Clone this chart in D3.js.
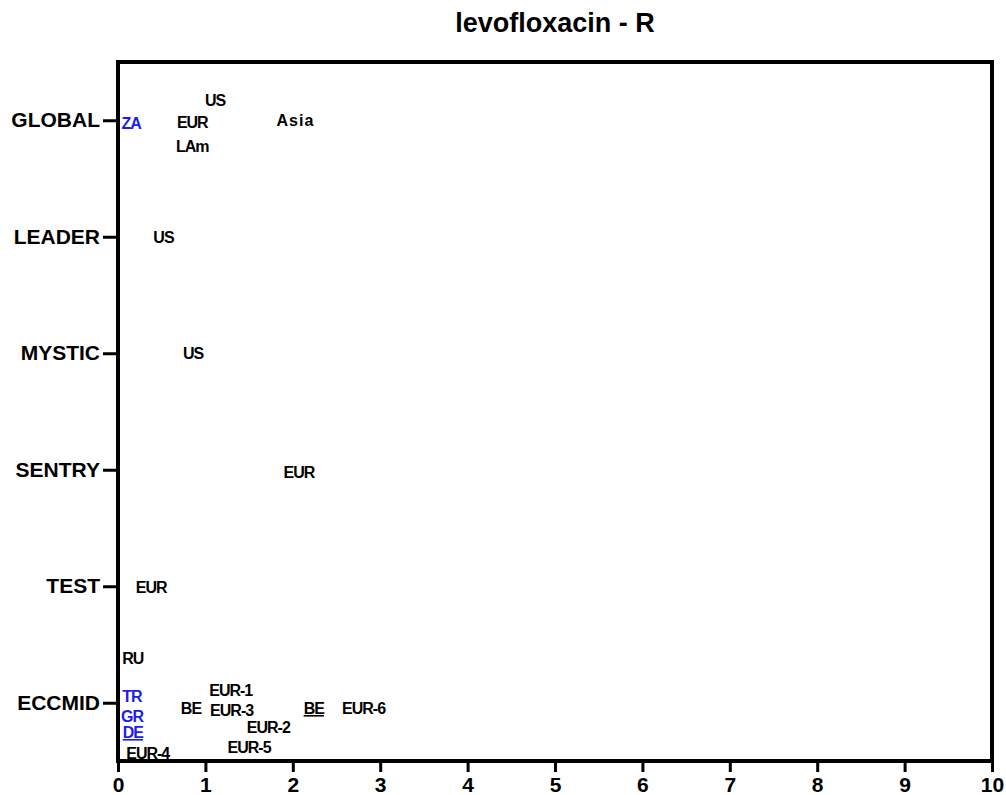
<!DOCTYPE html>
<html>
<head>
<meta charset="utf-8">
<script src="https://cdn.jsdelivr.net/npm/d3@7"></script>
<style>
  body { margin: 0; background: #fff; }
  svg { font-family: Arial, "Liberation Sans", sans-serif; font-weight: bold; }
  .axis text { fill: #000; }
  .axis line { stroke: #000; }
</style>
</head>
<body>
<svg id="chart" width="1006" height="795"></svg>
<script>
// Studies on the y axis (bottom to top)
const categories = ['ECCMID', 'TEST', 'SENTRY', 'MYSTIC', 'LEADER', 'GLOBAL'];
const xTicks = [0, 1, 2, 3, 4, 5, 6, 7, 8, 9, 10];

// Point labels: name, x value, y value (study index + small offset)
const labelNames = ['ZA', 'EUR', 'US', 'LAm', 'Asia',
  'US', 'US', 'EUR', 'EUR',
  'RU', 'TR', 'GR', 'DE', 'EUR-4', 'BE', 'EUR-1', 'EUR-3', 'EUR-2', 'EUR-5', 'BE', 'EUR-6'];
const labelX = [0.15, 0.85, 1.11, 0.85, 2.03,
  0.52, 0.86, 2.07, 0.38,
  0.17, 0.16, 0.16, 0.17, 0.34, 0.835, 1.29, 1.30, 1.72, 1.50, 2.24, 2.81];
const labelY = [5.975, 5.98, 6.17, 5.78, 6.0,
  5.0, 4.0, 2.98, 1.99,
  1.38, 1.056, 0.888, 0.747, 0.57, 0.953, 1.11, 0.94, 0.794, 0.622, 0.953, 0.953];
// country-level entries shown in blue
const flagged = [true, false, false, false, false,
  false, false, false, false,
  false, true, true, true, false, false, false, false, false, false, false, false];
const marked = [false, false, false, false, false,
  false, false, false, false,
  false, false, false, true, false, false, false, false, false, false, true, false];

const title = 'levofloxacin - R';

const labels = labelNames.map((name, i) => ({
  name, x: labelX[i], y: labelY[i], flagged: flagged[i], marked: marked[i]
}));

const margin = { left: 118, right: 14, top: 62, bottom: 34 };
const width = 1006, height = 795;
const drawWidth = width - margin.left - margin.right;
const drawHeight = height - margin.top - margin.bottom;

const svg = d3.select('#chart');

const xScale = d3.scaleLinear().domain([0, 10]).range([0, drawWidth]);
const yScale = d3.scaleLinear().domain([0.5, 6.5]).range([drawHeight, 0]);

// Title
svg.append('text')
  .attr('x', margin.left + drawWidth / 2)
  .attr('y', 32)
  .attr('text-anchor', 'middle')
  .style('font-size', '27px')
  .text(title);

const g = svg.append('g')
  .attr('transform', `translate(${margin.left},${margin.top})`);

// Axes
const xAxis = d3.axisBottom(xScale).tickValues(xTicks).tickSize(11).tickPadding(5)
  .tickFormat(d3.format('d'));
const yAxis = d3.axisLeft(yScale).tickValues(d3.range(1, 7)).tickSize(15).tickPadding(3)
  .tickFormat(d => categories[d - 1]);

g.append('g').attr('class', 'axis')
  .attr('transform', `translate(0,${drawHeight})`)
  .call(xAxis)
  .call(a => a.select('.domain').remove())
  .call(a => a.selectAll('line').attr('stroke-width', 3))
  .call(a => a.selectAll('text').style('font-size', '21px').attr('font-family', null));

g.append('g').attr('class', 'axis')
  .call(yAxis)
  .call(a => a.select('.domain').remove())
  .call(a => a.selectAll('line').attr('stroke-width', 3))
  .call(a => a.selectAll('text').style('font-size', '21px').attr('font-family', null));

// Frame
g.append('rect')
  .attr('x', 0).attr('y', 0)
  .attr('width', drawWidth).attr('height', drawHeight)
  .attr('fill', 'none')
  .attr('stroke', '#000')
  .attr('stroke-width', 4);

// Point labels
g.selectAll('text.pt')
  .data(labels)
  .enter()
  .append('text')
  .attr('class', 'pt')
  .attr('x', d => xScale(d.x))
  .attr('y', d => yScale(d.y))
  .attr('dy', '0.36em')
  .attr('text-anchor', 'middle')
  .attr('letter-spacing', d => (d.name === 'Asia' ? 1 : -1))
  .attr('text-decoration', d => (d.marked ? 'underline' : null))
  .style('font-size', '16px')
  .attr('fill', d => (d.flagged ? '#1c1cf0' : '#000'))
  .text(d => d.name);
</script>
</body>
</html>
